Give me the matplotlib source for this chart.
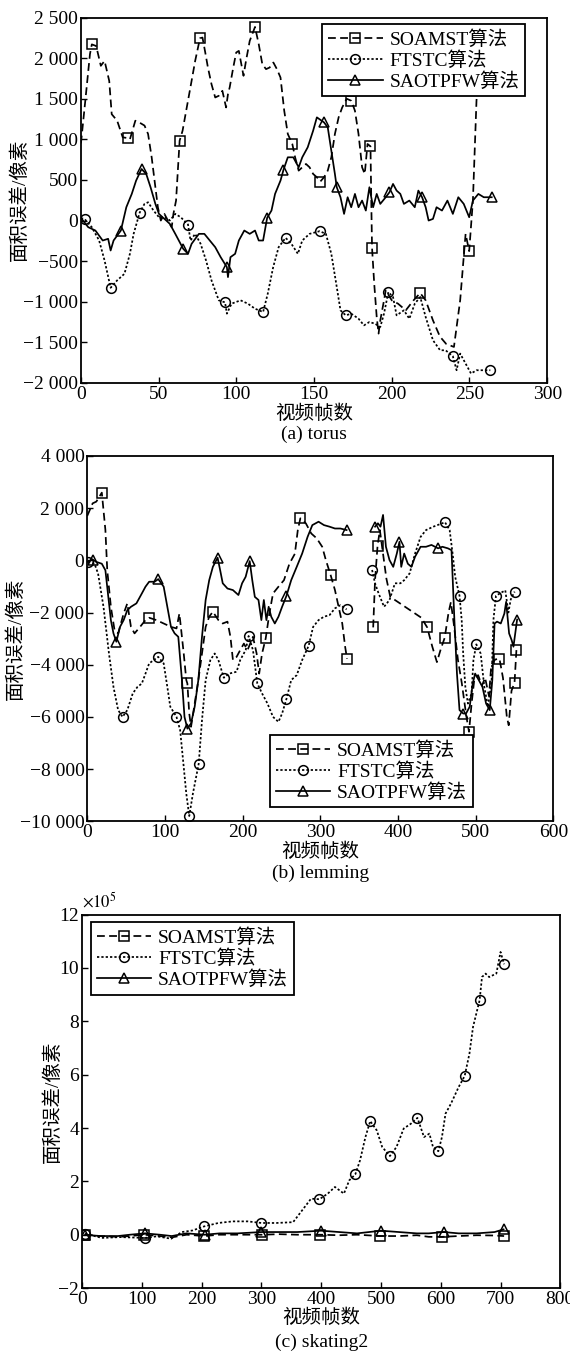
import matplotlib.pyplot as plt
import numpy as np
from matplotlib.ticker import FuncFormatter, MultipleLocator

plt.rcParams['font.family'] = ['Liberation Serif', 'Noto Sans CJK SC']
plt.rcParams['mathtext.fontset'] = 'stix'

# ---- (a) torus ----
torus_soamst_f = [0, 2.8, 5.8, 7, 9.8, 12.8, 15.2, 18.2, 19.8, 23.3, 26.9, 30, 31.5, 35, 37.4, 40.9, 43.2, 45.5,
                  47.9, 49.5, 51.4, 53.7, 56.5, 58.4, 59.5, 61.2, 63.5, 65.4, 67.7, 71.2, 73.5, 76.6, 78.2, 79.8,
                  81.7, 84, 86.4, 88.7, 91, 93.4, 94.6, 95.7, 98, 99.9, 101.6, 103.2, 104.6, 106.2, 108.6, 112,
                  114.4, 116.7, 119.1, 121.4, 123.8, 126.1, 128.4, 130.8, 133.1, 136, 137.8, 140.1, 142.4, 144.8,
                  147.1, 149.4, 151.8, 154, 156.4, 158.8, 161.1, 163.4, 165.8, 168.1, 171, 174, 176.3, 178.6,
                  180.9, 182.6, 184.4, 186.3, 186.8, 187.3, 188.7, 190.3, 191.5, 192.6, 195, 196.1, 200, 204, 209,
                  214, 218.3, 221.8, 226.5, 231, 235, 240, 244, 247.5, 249.8, 252.2, 254.5, 257]
torus_soamst_v = [950, 1475, 2050, 2170, 2150, 1906, 1967, 1720, 1310, 1230, 1025, 1016, 1000, 1230, 1210, 1170,
                  1066, 780, 410, 164, 0, 82, -20, -82, 82, 246, 984, 1107, 1352, 1721, 1967, 2246, 2254, 2090,
                  1885, 1680, 1516, 1537, 1598, 1393, 1557, 1640, 1885, 2070, 2090, 1926, 1783, 1967, 2213, 2385,
                  2172, 1926, 1865, 1885, 1947, 1865, 1762, 1352, 1066, 943, 779, 615, 656, 697, 656, 574, 533, 480,
                  533, 615, 779, 1066, 1271, 1393, 1500, 1475, 1352, 1066, 656, 574, 943, 914, 246, -336, -778,
                  -1188, -1393, -1230, -983, -860, -983, -1024, -1106, -983, -893, -983, -1230, -1430, -1520,
                  -1557, -983, -164, -377, 246, 1475, 2150]
torus_soamst_m = [7, 30, 63.5, 76.6, 112, 136, 154, 174, 186.3, 187.3, 218.3, 249.8]

torus_ftstc_f = [0, 2.3, 7, 11.7, 15.2, 19.1, 23.3, 28, 31.5, 33.9, 37.8, 40.9, 43.2, 46.7, 50.2, 53.7, 57.2, 60.7,
                 64.2, 68.9, 70.5, 73.5, 77, 80.5, 84, 88.7, 92.7, 93.9, 96.9, 102.7, 107.4, 112, 117.2, 120.2,
                 123.7, 127.2, 131.7, 135.4, 139.6, 142.4, 147.1, 153.6, 157.6, 161.1, 164.6, 167, 170.4, 173.9,
                 178.6, 182.1, 185.6, 189.1, 192.6, 195, 197.8, 200.8, 203.1, 207.8, 211.3, 214.8, 218.3, 221.8,
                 226.5, 231.1, 234.6, 239.3, 241.7, 244, 247.5, 251, 254.5, 263.4]
torus_ftstc_v = [30, 20, -82, -246, -492, -828, -737, -656, -410, -164, 98, 205, 225, 123, 41, 41, 0, 82, 41, -49,
                 -246, -164, -287, -492, -737, -983, -1008, -1147, -1024, -983, -1024, -1086, -1127, -901, -573,
                 -328, -213, -287, -410, -246, -164, -131, -164, -410, -819, -1106, -1168, -1147, -1209, -1291,
                 -1250, -1270, -1311, -1147, -881, -942, -1168, -1106, -1209, -1024, -942, -1188, -1475, -1598,
                 -1598, -1672, -1844, -1639, -1762, -1885, -1844, -1844]
torus_ftstc_m = [2.3, 19.1, 37.8, 68.9, 92.7, 117.2, 131.7, 153.6, 170.4, 197.8, 239.3, 263.4]

torus_saot_f = [0.5, 4.7, 9.3, 14, 17.5, 19.1, 21, 25.7, 29.2, 32.7, 35.5, 39, 42, 44.8, 47.9, 50.2, 52.5, 54.9,
                57.2, 60.7, 65.8, 68.9, 71.2, 75.9, 79.4, 82.9, 86.4, 89.9, 93.9, 94.6, 96.2, 99.2, 101.6, 105.1,
                108.6, 112, 114.4, 117.2, 119.8, 122.6, 124.9, 128.4, 130.3, 133.1, 136.6, 140.1, 142.4, 145.9,
                149.4, 151.8, 156.4, 158.8, 161.1, 163.4, 164.6, 167, 169.3, 171.6, 173.9, 176.3, 178.6, 180.9,
                183.3, 185.6, 188, 190.3, 192.6, 196.1, 198.5, 200.8, 203.1, 205.5, 207.8, 211.3, 214.8, 217.1,
                219.5, 221.8, 223.7, 226.5, 228.8, 232.3, 235.8, 239.3, 242.8, 246.3, 249.8, 252.2, 255.7, 259.2,
                264.3]
torus_saot_v = [20, -82, -123, -246, -225, -369, -246, -123, 164, 328, 492, 635, 574, 410, 205, 82, 41, 0, -41,
                -164, -348, -410, -287, -164, -164, -246, -328, -451, -574, -697, -451, -410, -246, -123, -164,
                -123, -246, -246, 33, 123, 328, 492, 623, 779, 779, 656, 779, 902, 1107, 1271, 1209, 1148, 861,
                574, 410, 287, 82, 287, 164, 328, 164, 246, 123, 410, 164, 328, 205, 287, 348, 451, 369, 328,
                205, 246, 164, 369, 287, 164, 0, 20, 164, 123, 246, 82, 287, 205, 41, 246, 328, 287, 287]
torus_saot_m = [25.7, 39, 65.8, 93.9, 119.8, 130.3, 156.4, 164.6, 198.5, 219.5, 264.3]

# ---- (b) lemming ----  (nan = frames without data)
nan = np.nan
lem_soamst_f = [0, 7, 11.7, 18.8, 23.4, 25.8, 30.5, 35.2, 39.8, 46.9, 51.6, 56.3, 60.9, 68, 75, 79.7, 89, 98.4,
                107.8, 114.9, 118.6, 120.5, 124.2, 127.5, 128.9, 131.3, 133.6, 138.3, 143, 147.7, 152.4, 157,
                161.7, 168.8, 174.4, 180.5, 184.3, 187.5, 192.2, 196.9, 201.6, 206.3, 213.3, 218, 221.3, 225,
                229.7, 234.4, 239.1, 246.1, 253.2, 260.2, 267.2, 271, 274.3, 281.3, 288.3, 295.4, 302.4, 307.1,
                313.2, 318.8, 323.5, 328.2, 331.9, 334.3, 350, 368, 370.4, 373.6, 376.6, 380, 385, 390, 400, 410,
                420, 430, 437.5, 444, 450, 455, 460, 465, 468, 472, 477, 482, 488, 491.3, 494.6, 498, 503, 508,
                512, 517, 520, 525, 530.5, 535, 540, 542.4, 546, 549.9, 552.3]
lem_soamst_v = [1700, 2184, 2250, 2594, 1162, -384, -1790, -2680, -2800, -2040, -1650, -2550, -2800, -2550,
                -2290, -2200, -2290, -2420, -2550, -2610, -2040, -2550, -3570, -4590, -4720, -5870, -6380, -5490,
                -4590, -3570, -2550, -2160, -1970, -2290, -2420, -2350, -2930, -3820, -3700, -3440, -3190, -3440,
                -2930, -3570, -4340, -3570, -2990, -2040, -1270, -1010, -760, -130, 250, 1160, 1610, 1420, 1030,
                840, 520, 10, -560, -1140, -1780, -2420, -3310, -3770, nan, -2570, -760, 550, 1160, 400, -700,
                -1400, -1600, -1800, -2000, -2200, -2570, -3300, -3900, -3400, -2970, -2000, -1600, -2500, -3800,
                -4700, -6000, -6570, -5500, -4600, -4400, -4800, -4500, -5200, -4000, -3800, -3770, -4500, -6000,
                -6320, -5000, -4690, -3440]
lem_soamst_m = [18.8, 79.7, 128.9, 161.7, 229.7, 274.3, 313.2, 334.3, 368, 373.6, 437.5, 460, 491.3, 530.5,
                549.9, 552.3]

lem_ftstc_f = [1, 9.4, 14, 21, 28, 33.8, 39.8, 45.5, 51.6, 58.6, 64.7, 70.3, 75, 79.7, 91.4, 98.4, 103.1, 106.9,
               114.9, 119.6, 124.2, 127.5, 131.3, 136, 143.5, 147.7, 152.4, 158.5, 164.1, 168.8, 175.8, 182.8,
               192.2, 196.9, 203.9, 207.7, 213.3, 218.9, 225, 232, 239.1, 246.1, 250.8, 256.4, 262.5, 269.6,
               276.6, 285, 290.7, 297.7, 304.7, 311.8, 318.8, 325.8, 333.8, 350, 366.6, 370.4, 375, 382, 389, 396,
               403, 407.9, 414.9, 421.9, 429, 436, 445.4, 460.4, 466.4, 470.2, 473.5, 479.1, 481.9, 483.8, 486.6,
               489.9, 494.6, 497, 500.7, 506.3, 511, 515.7, 520.4, 522.7, 526, 532, 538, 542, 545, 550]
lem_ftstc_v = [-60, -130, -510, -1790, -3570, -4850, -5740, -6000, -5740, -5100, -4850, -4720, -4340, -3950,
               -3700, -3950, -4850, -5610, -6000, -6510, -7920, -8940, -9800, -8940, -7790, -6130, -4590, -3820,
               -3570, -3820, -4500, -4340, -4270, -3820, -3440, -2900, -3440, -4720, -5100, -5490, -6000, -6190,
               -5870, -5310, -4590, -4400, -3820, -3270, -2550, -2290, -2160, -2100, -1840, -1720, -1880, nan,
               -370, -880, -1270, -1780, -1520, -880, -880, -760, -500, 260, 900, 1160, 1290, 1460, 1160, 260,
               -630, -1360, -2290, -3570, -4850, -5490, -5100, -3820, -3220, -3570, -4850, -5610, -4590, -2290,
               -1360, -1250, -1150, -2000, -1500, -1200]
lem_ftstc_m = [1, 45.5, 91.4, 114.9, 131.3, 143.5, 175.8, 207.7, 218.9, 256.4, 285, 333.8, 366.6, 460.4, 479.1,
               500.7, 526, 550]

lem_saot_f = [0, 7, 11.7, 18.8, 23.4, 26.7, 30.5, 33.8, 37.5, 42.2, 46.9, 51.6, 56.3, 63.3, 70.3, 75, 79.7, 86.7,
              91.4, 98.4, 103.1, 107.8, 112.5, 117.2, 121.9, 125.2, 128.9, 133.6, 138.3, 143, 147.7, 152.4, 157,
              161.7, 167.8, 171.1, 174.4, 180.5, 187.5, 194.6, 199.3, 203.9, 209.1, 212.4, 215.7, 220.4, 224.1,
              227.3, 230.6, 233.5, 236.8, 241.4, 246.1, 250.8, 256.4, 262.5, 269.6, 276.6, 283.6, 289.7, 297.7,
              304.7, 311.8, 318.8, 325.8, 333.8, 350, 370.4, 374.1, 377.4, 380.7, 384.4, 389, 393.8, 398.4, 401.8,
              404.1, 407.9, 412.6, 417.2, 421.9, 429, 436, 443, 451.5, 457.1, 464.1, 468.8, 472.5, 475.8, 479.1,
              483.8, 487.5, 492.2, 496.1, 499.2, 503.9, 508.6, 513.3, 518, 521.3, 524.2, 527.4, 532.2, 536.8,
              539.1, 542.9, 546.2, 548.5, 553.2]
lem_saot_v = [-60, 30, -60, -130, -380, -1280, -2300, -2800, -3120, -2550, -2290, -1910, -1780, -1650, -1270,
              -1010, -820, -820, -720, -1010, -1780, -2550, -2800, -2930, -4590, -6000, -6450, -6250, -5610,
              -4590, -2930, -1520, -760, -250, 100, -380, -880, -1080, -1140, -1330, -880, -630, -30, -760, -1400,
              -1520, -2290, -1520, -2290, -1780, -2160, -2420, -2160, -1780, -1360, -760, -250, 260, 900, 1350,
              1480, 1350, 1290, 1220, 1220, 1160, nan, 1290, 1420, 1290, 1740, 520, 10, -250, 260, 710, -250,
              260, -130, -250, 140, 520, 520, 590, 460, 520, 460, 390, -2290, -4340, -5740, -5870, -5870, -5610,
              -4720, -4340, -4590, -4850, -5490, -5740, -4590, -2420, -2350, -2420, -2040, -1590, -2800, -3060,
              -3310, -2270]
lem_saot_m = [7, 37.5, 91.4, 128.9, 167.8, 209.1, 256.4, 333.8, 370.4, 401.8, 451.5, 483.8, 518, 553.2]

# ---- (c) skating2 ----  (values in units of 1e5)
sk_soamst_f = [5, 30, 60, 80, 103, 130, 150, 175, 204, 230, 260, 301, 330, 360, 398, 430, 460, 499, 530, 560, 580,
               602, 630, 660, 690, 706]
sk_soamst_v = [0, -0.05, -0.08, -0.05, 0, -0.05, -0.1, 0, -0.05, 0, 0, 0, 0.02, 0, 0, -0.02, 0, -0.05, -0.05,
               -0.02, -0.08, -0.08, -0.05, -0.02, -0.03, -0.05]
sk_soamst_m = [5, 103, 204, 301, 398, 499, 602, 706]

sk_ftstc_f = [5, 33, 64, 105, 125, 149, 167, 185, 204, 228, 252, 277, 300, 325, 353, 368, 383, 397, 411, 423, 438,
              447, 457, 465, 474, 482, 493, 502, 515, 526, 538, 550, 561, 572, 581, 587, 596, 602, 608, 617, 630,
              640, 648, 654, 665, 669, 675, 681, 693, 700, 706]
sk_ftstc_v = [0.04, -0.12, -0.09, -0.12, -0.06, -0.15, 0.1, 0.16, 0.31, 0.44, 0.5, 0.5, 0.44, 0.44, 0.47, 0.91,
              1.35, 1.33, 1.54, 1.79, 1.54, 2.04, 2.26, 2.79, 3.66, 4.26, 3.91, 3.29, 2.95, 3.29, 3.98, 4.16,
              4.38, 3.66, 3.79, 3.29, 3.13, 3.66, 4.54, 4.91, 5.54, 5.95, 6.79, 7.79, 8.79, 9.66, 9.79, 9.66,
              9.79, 10.6, 10.14]
sk_ftstc_m = [5, 105, 204, 300, 397, 457, 482, 515, 561, 596, 640, 665, 706]

sk_saot_f = [5, 30, 60, 80, 105, 130, 150, 175, 205, 230, 260, 300, 330, 360, 400, 430, 460, 500, 530, 560, 580,
             605, 630, 660, 690, 705]
sk_saot_v = [0, -0.05, -0.05, 0, 0.05, 0, -0.05, 0.05, 0, 0.05, 0.05, 0.1, 0.1, 0.1, 0.15, 0.1, 0.05, 0.15, 0.1,
             0.05, 0.05, 0.1, 0.05, 0.05, 0.1, 0.2]
sk_saot_m = [5, 105, 205, 300, 400, 500, 605, 705]

labels = ['SOAMST算法', 'FTSTC算法', 'SAOTPFW算法']
FS = 14


def tick_fmt(v, pos):
    s = f"{abs(int(round(v))):,}".replace(",", " ")
    return ("\u2212" if v < 0 else "") + s


def draw(ax, f, v, marks, ls, marker, label):
    f = np.array(f, float)
    v = np.array(v, float)
    idx = [int(np.argmin(np.abs(f - m))) for m in marks]
    ax.plot(f, v, color='k', lw=1.25, linestyle=ls, marker=marker, markevery=idx,
            ms=7, mfc='none', mec='k', mew=1.1, label=label)


def style(ax, xmax, xstep, ylo, yhi, ystep, xlab_y, title, title_y):
    ax.set_xlim(0, xmax)
    ax.set_ylim(ylo, yhi)
    ax.xaxis.set_major_locator(MultipleLocator(xstep))
    ax.yaxis.set_major_locator(MultipleLocator(ystep))
    ax.yaxis.set_major_formatter(FuncFormatter(tick_fmt))
    ax.xaxis.set_major_formatter(FuncFormatter(tick_fmt))
    ax.tick_params(direction='in', length=4, width=1.0, labelsize=FS, pad=2,
                   top=False, right=False)
    for sp in ax.spines.values():
        sp.set_linewidth(1.3)
    ax.set_xlabel('视频帧数', fontsize=FS)
    ax.xaxis.set_label_coords(0.5, xlab_y)
    ax.text(0.5, title_y, title, transform=ax.transAxes, ha='center', va='center', fontsize=FS)


def legend(ax, loc, anchor):
    lg = ax.legend(loc=loc, bbox_to_anchor=anchor, borderaxespad=0, fontsize=FS, frameon=True,
                   fancybox=False, edgecolor='k', framealpha=1, handlelength=2.8, handletextpad=0.35,
                   labelspacing=0.12, borderpad=0.3)
    lg.get_frame().set_linewidth(1.3)


DASH = (0, (4.5, 2.5))
DOT = (0, (1.3, 1.2))

fig = plt.figure(figsize=(5.7, 13.53), dpi=100)

# torus
ax1 = fig.add_axes([0.142, 0.717, 0.818, 0.270])
draw(ax1, torus_soamst_f, torus_soamst_v, torus_soamst_m, DASH, 's', labels[0])
draw(ax1, torus_ftstc_f, torus_ftstc_v, torus_ftstc_m, DOT, 'o', labels[1])
draw(ax1, torus_saot_f, torus_saot_v, torus_saot_m, '-', '^', labels[2])
style(ax1, 300, 50, -2000, 2500, 500, -0.06, '(a) torus', -0.14)
ax1.set_ylabel('面积误差/像素', fontsize=FS)
ax1.yaxis.set_label_coords(-0.112, 0.5)
legend(ax1, 'upper right', (0.953, 0.982))

# lemming
ax2 = fig.add_axes([0.153, 0.393, 0.818, 0.270])
draw(ax2, lem_soamst_f, lem_soamst_v, lem_soamst_m, DASH, 's', labels[0])
draw(ax2, lem_ftstc_f, lem_ftstc_v, lem_ftstc_m, DOT, 'o', labels[1])
draw(ax2, lem_saot_f, lem_saot_v, lem_saot_m, '-', '^', labels[2])
style(ax2, 600, 100, -10000, 4000, 2000, -0.058, '(b) lemming', -0.142)
ax2.set_ylabel('面积误差/像素', fontsize=FS)
ax2.yaxis.set_label_coords(-0.134, 0.5)
legend(ax2, 'lower left', (0.392, 0.038))

# skating2
ax3 = fig.add_axes([0.144, 0.048, 0.839, 0.276])
draw(ax3, sk_soamst_f, sk_soamst_v, sk_soamst_m, DASH, 's', labels[0])
draw(ax3, sk_ftstc_f, sk_ftstc_v, sk_ftstc_m, DOT, 'o', labels[1])
draw(ax3, sk_saot_f, sk_saot_v, sk_saot_m, '-', '^', labels[2])
style(ax3, 800, 100, -2, 12, 2, -0.055, '(c) skating2', -0.145)
ax3.set_ylabel('面积误差/像素', fontsize=FS)
ax3.yaxis.set_label_coords(-0.042, 0.5)
ax3.text(0.0, 1.01, r'$\times 10^{5}$', transform=ax3.transAxes, ha='left', va='bottom', fontsize=12)
legend(ax3, 'upper left', (0.019, 0.979))

fig.savefig('out.png', dpi=100)
